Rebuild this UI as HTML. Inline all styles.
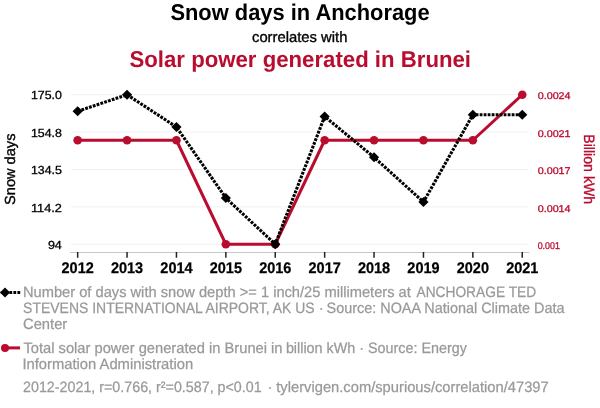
<!DOCTYPE html>
<html><head><meta charset="utf-8"><title>Snow days in Anchorage correlates with Solar power generated in Brunei</title>
<style>
html,body{margin:0;padding:0;background:#fff;}
svg{display:block;font-family:"Liberation Sans",Arial,Helvetica,sans-serif;text-rendering:geometricPrecision;}
</style></head><body>
<svg width="600" height="408" viewBox="0 0 600 408">
<rect width="600" height="408" fill="#fff"/>
<text x="300" y="19.6" text-anchor="middle" font-size="22.8" textLength="259.2" lengthAdjust="spacingAndGlyphs" font-weight="bold" fill="#000">Snow days in Anchorage</text>
<text x="299.7" y="42" text-anchor="middle" font-size="14.8" fill="#000" stroke="#000" stroke-width="0.35">correlates with</text>
<text x="300.25" y="67.45" text-anchor="middle" font-size="22.9" textLength="341.5" lengthAdjust="spacingAndGlyphs" font-weight="bold" fill="#ba0c2f">Solar power generated in Brunei</text>
<line x1="71" x2="528" y1="94.75" y2="94.75" stroke="#f1f1f1" stroke-width="1"/>
<line x1="71" x2="528" y1="132.1" y2="132.1" stroke="#f1f1f1" stroke-width="1"/>
<line x1="71" x2="528" y1="169.5" y2="169.5" stroke="#f1f1f1" stroke-width="1"/>
<line x1="71" x2="528" y1="206.9" y2="206.9" stroke="#f1f1f1" stroke-width="1"/>
<line x1="71" x2="528" y1="244.25" y2="244.25" stroke="#f1f1f1" stroke-width="1"/>
<line x1="70" x2="529.5" y1="252.5" y2="252.5" stroke="#c8c8c8" stroke-width="1"/>
<line x1="77.65" x2="77.65" y1="252" y2="257.75" stroke="#222" stroke-width="1.5"/>
<line x1="127.05" x2="127.05" y1="252" y2="257.75" stroke="#222" stroke-width="1.5"/>
<line x1="176.45" x2="176.45" y1="252" y2="257.75" stroke="#222" stroke-width="1.5"/>
<line x1="225.85" x2="225.85" y1="252" y2="257.75" stroke="#222" stroke-width="1.5"/>
<line x1="275.25" x2="275.25" y1="252" y2="257.75" stroke="#222" stroke-width="1.5"/>
<line x1="324.65" x2="324.65" y1="252" y2="257.75" stroke="#222" stroke-width="1.5"/>
<line x1="374.05" x2="374.05" y1="252" y2="257.75" stroke="#222" stroke-width="1.5"/>
<line x1="423.45" x2="423.45" y1="252" y2="257.75" stroke="#222" stroke-width="1.5"/>
<line x1="472.85" x2="472.85" y1="252" y2="257.75" stroke="#222" stroke-width="1.5"/>
<line x1="522.25" x2="522.25" y1="252" y2="257.75" stroke="#222" stroke-width="1.5"/>
<text x="77.65" y="272.5" text-anchor="middle" font-size="15.3" textLength="32.2" lengthAdjust="spacingAndGlyphs" font-weight="bold" fill="#000" stroke="#000" stroke-width="0.25">2012</text>
<text x="127.05" y="272.5" text-anchor="middle" font-size="15.3" textLength="32.2" lengthAdjust="spacingAndGlyphs" font-weight="bold" fill="#000" stroke="#000" stroke-width="0.25">2013</text>
<text x="176.45" y="272.5" text-anchor="middle" font-size="15.3" textLength="32.2" lengthAdjust="spacingAndGlyphs" font-weight="bold" fill="#000" stroke="#000" stroke-width="0.25">2014</text>
<text x="225.85" y="272.5" text-anchor="middle" font-size="15.3" textLength="32.2" lengthAdjust="spacingAndGlyphs" font-weight="bold" fill="#000" stroke="#000" stroke-width="0.25">2015</text>
<text x="275.25" y="272.5" text-anchor="middle" font-size="15.3" textLength="32.2" lengthAdjust="spacingAndGlyphs" font-weight="bold" fill="#000" stroke="#000" stroke-width="0.25">2016</text>
<text x="324.65" y="272.5" text-anchor="middle" font-size="15.3" textLength="32.2" lengthAdjust="spacingAndGlyphs" font-weight="bold" fill="#000" stroke="#000" stroke-width="0.25">2017</text>
<text x="374.05" y="272.5" text-anchor="middle" font-size="15.3" textLength="32.2" lengthAdjust="spacingAndGlyphs" font-weight="bold" fill="#000" stroke="#000" stroke-width="0.25">2018</text>
<text x="423.45" y="272.5" text-anchor="middle" font-size="15.3" textLength="32.2" lengthAdjust="spacingAndGlyphs" font-weight="bold" fill="#000" stroke="#000" stroke-width="0.25">2019</text>
<text x="472.85" y="272.5" text-anchor="middle" font-size="15.3" textLength="32.2" lengthAdjust="spacingAndGlyphs" font-weight="bold" fill="#000" stroke="#000" stroke-width="0.25">2020</text>
<text x="522.25" y="272.5" text-anchor="middle" font-size="15.3" textLength="32.2" lengthAdjust="spacingAndGlyphs" font-weight="bold" fill="#000" stroke="#000" stroke-width="0.25">2021</text>
<text x="61.85" y="99.00" text-anchor="end" font-size="11.7" textLength="30.9" lengthAdjust="spacingAndGlyphs" fill="#000" stroke="#000" stroke-width="0.3">175.0</text>
<text x="61.85" y="137.45" text-anchor="end" font-size="11.7" textLength="30.9" lengthAdjust="spacingAndGlyphs" fill="#000" stroke="#000" stroke-width="0.3">154.8</text>
<text x="61.85" y="174.00" text-anchor="end" font-size="11.7" textLength="30.9" lengthAdjust="spacingAndGlyphs" fill="#000" stroke="#000" stroke-width="0.3">134.5</text>
<text x="61.85" y="212.45" text-anchor="end" font-size="11.7" textLength="30.9" lengthAdjust="spacingAndGlyphs" fill="#000" stroke="#000" stroke-width="0.3">114.2</text>
<text x="61.85" y="249.25" text-anchor="end" font-size="11.7" textLength="13.95" lengthAdjust="spacingAndGlyphs" fill="#000" stroke="#000" stroke-width="0.3">94</text>
<text x="537.7" y="99.15" font-size="9.8" textLength="32.9" lengthAdjust="spacingAndGlyphs" fill="#ba0c2f" stroke="#ba0c2f" stroke-width="0.3">0.0024</text>
<text x="537.7" y="136.67" font-size="9.8" textLength="32.9" lengthAdjust="spacingAndGlyphs" fill="#ba0c2f" stroke="#ba0c2f" stroke-width="0.3">0.0021</text>
<text x="537.7" y="173.87" font-size="9.8" textLength="32.9" lengthAdjust="spacingAndGlyphs" fill="#ba0c2f" stroke="#ba0c2f" stroke-width="0.3">0.0017</text>
<text x="537.7" y="211.87" font-size="9.8" textLength="32.9" lengthAdjust="spacingAndGlyphs" fill="#ba0c2f" stroke="#ba0c2f" stroke-width="0.3">0.0014</text>
<text x="537.7" y="248.75" font-size="9.8" textLength="22.2" lengthAdjust="spacingAndGlyphs" fill="#ba0c2f" stroke="#ba0c2f" stroke-width="0.3">0.001</text>
<text transform="translate(14.8,169.25) rotate(-90)" text-anchor="middle" font-size="14.6" fill="#000" stroke="#000" stroke-width="0.35">Snow days</text>
<text transform="translate(584.1,169.2) rotate(90)" text-anchor="middle" font-size="15" textLength="69.9" lengthAdjust="spacingAndGlyphs" fill="#ba0c2f" stroke="#ba0c2f" stroke-width="0.35">Billion kWh</text>
<polyline points="77.65,140.25 127.05,140.25 176.45,140.25 225.85,244.25 275.25,244.25 324.65,140.25 374.05,140.25 423.45,140.25 472.85,140.25 522.25,94.75" fill="none" stroke="#ba0c2f" stroke-width="3" stroke-linejoin="round"/>
<circle cx="77.65" cy="140.25" r="4.3" fill="#ba0c2f"/>
<circle cx="127.05" cy="140.25" r="4.3" fill="#ba0c2f"/>
<circle cx="176.45" cy="140.25" r="4.3" fill="#ba0c2f"/>
<circle cx="225.85" cy="244.25" r="4.3" fill="#ba0c2f"/>
<circle cx="275.25" cy="244.25" r="4.3" fill="#ba0c2f"/>
<circle cx="324.65" cy="140.25" r="4.3" fill="#ba0c2f"/>
<circle cx="374.05" cy="140.25" r="4.3" fill="#ba0c2f"/>
<circle cx="423.45" cy="140.25" r="4.3" fill="#ba0c2f"/>
<circle cx="472.85" cy="140.25" r="4.3" fill="#ba0c2f"/>
<circle cx="522.25" cy="94.75" r="4.3" fill="#ba0c2f"/>
<polyline points="77.65,111.25 127.05,94.75 176.45,127 225.85,198 275.25,244.25 324.65,116.5 374.05,157.25 423.45,202 472.85,114.75 522.25,114.75" fill="none" stroke="#000" stroke-width="3.1" stroke-dasharray="2.8,1.2"/>
<path d="M77.65 106.15L82.75 111.25L77.65 116.35L72.55 111.25Z" fill="#000"/>
<path d="M127.05 89.65L132.15 94.75L127.05 99.85L121.95 94.75Z" fill="#000"/>
<path d="M176.45 121.9L181.55 127L176.45 132.1L171.35 127Z" fill="#000"/>
<path d="M225.85 192.9L230.95 198L225.85 203.1L220.75 198Z" fill="#000"/>
<path d="M275.25 239.15L280.35 244.25L275.25 249.35L270.15 244.25Z" fill="#000"/>
<path d="M324.65 111.4L329.75 116.5L324.65 121.6L319.55 116.5Z" fill="#000"/>
<path d="M374.05 152.15L379.15 157.25L374.05 162.35L368.95 157.25Z" fill="#000"/>
<path d="M423.45 196.9L428.55 202L423.45 207.1L418.35 202Z" fill="#000"/>
<path d="M472.85 109.65L477.95 114.75L472.85 119.85L467.75 114.75Z" fill="#000"/>
<path d="M522.25 109.65L527.35 114.75L522.25 119.85L517.15 114.75Z" fill="#000"/>
<line x1="20.2" x2="0" y1="292.5" y2="292.5" stroke="#000" stroke-width="3.1" stroke-dasharray="2.8,1.2"/>
<path d="M5 287.5L10 292.5L5 297.5L0 292.5Z" fill="#000"/>
<line x1="5" x2="20" y1="347.9" y2="347.9" stroke="#ba0c2f" stroke-width="3"/>
<circle cx="5" cy="347.9" r="4" fill="#ba0c2f"/>
<g font-size="15.0" fill="#999" stroke="#999" stroke-width="0.25">
<text x="23.00" y="296.6" textLength="387.81" lengthAdjust="spacingAndGlyphs">Number of days with snow depth &gt;= 1 inch/25 millimeters at</text>
<text x="416.47" y="296.6" textLength="119.68" lengthAdjust="spacingAndGlyphs">ANCHORAGE TED</text>
<text x="23.12" y="312.6" textLength="291.52" lengthAdjust="spacingAndGlyphs">STEVENS INTERNATIONAL AIRPORT, AK US</text>
<text x="321.20" y="312.6" text-anchor="middle">·</text>
<text x="326.55" y="312.6" textLength="237.95" lengthAdjust="spacingAndGlyphs">Source: NOAA National Climate Data</text>
<text x="23.00" y="328.6" textLength="44.24" lengthAdjust="spacingAndGlyphs">Center</text>
<text x="23.42" y="352.8" textLength="259.14" lengthAdjust="spacingAndGlyphs">Total solar power generated in Brunei in</text>
<text x="285.88" y="352.8" textLength="180.95" lengthAdjust="spacingAndGlyphs">billion kWh · Source: Energy</text>
<text x="22.39" y="368.7" textLength="170.76" lengthAdjust="spacingAndGlyphs">Information Administration</text>
<text x="23.03" y="391.8" textLength="238.67" lengthAdjust="spacingAndGlyphs">2012-2021, r=0.766, r²=0.587, p&lt;0.01</text>
<text x="269.90" y="391.8" text-anchor="middle">·</text>
<text x="276.28" y="391.8" textLength="272.46" lengthAdjust="spacingAndGlyphs">tylervigen.com/spurious/correlation/47397</text>
</g>
</svg>
</body></html>
